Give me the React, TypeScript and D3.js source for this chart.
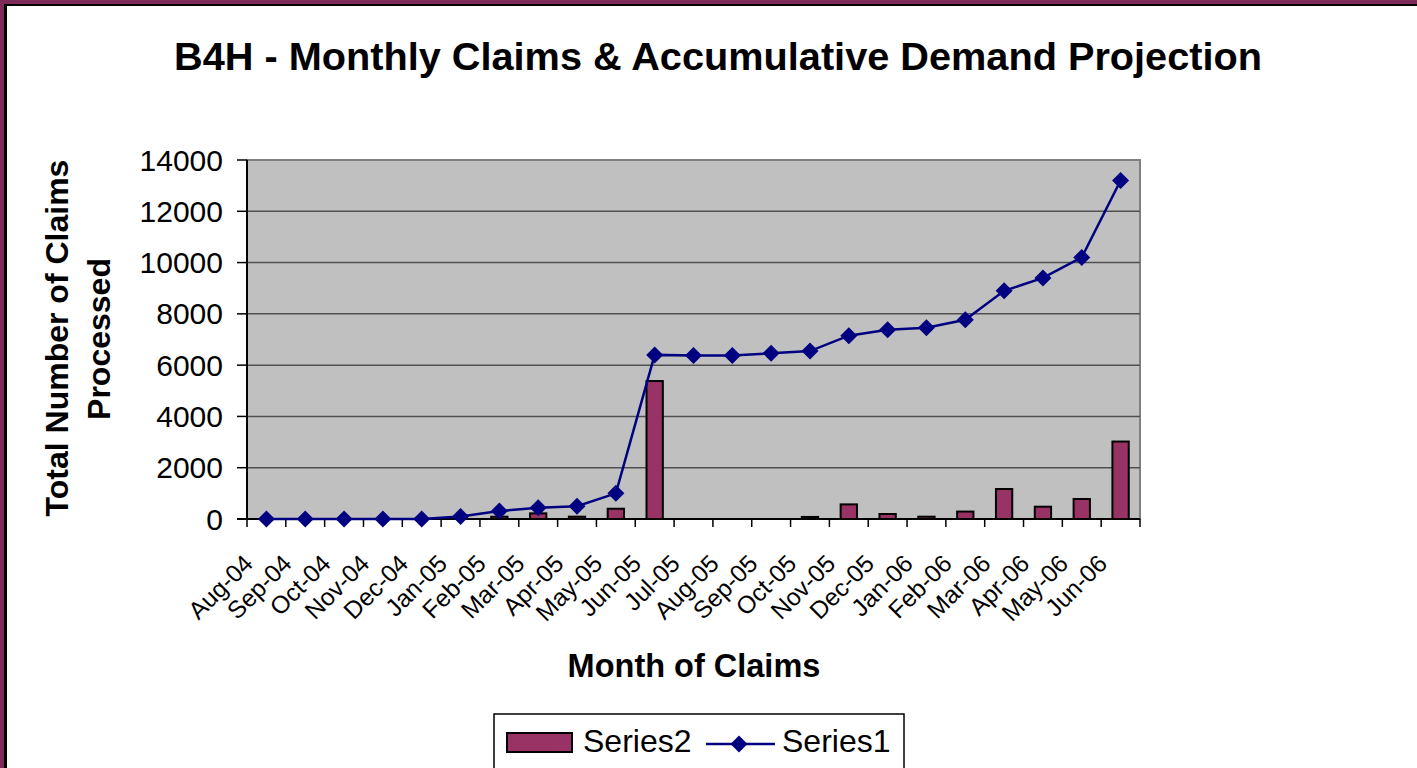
import React from "react";
import * as d3 from "d3";

const months = [
  "Aug-04", "Sep-04", "Oct-04", "Nov-04", "Dec-04", "Jan-05", "Feb-05", "Mar-05",
  "Apr-05", "May-05", "Jun-05", "Jul-05", "Aug-05", "Sep-05", "Oct-05", "Nov-05",
  "Dec-05", "Jan-06", "Feb-06", "Mar-06", "Apr-06", "May-06", "Jun-06",
];

// monthly claims (bars)
const series2 = [
  0, 0, 0, 0, 0, 0, 90, 220, 90, 400, 5380, 0, 0, 0, 80, 570, 195, 90, 290,
  1170, 480, 780, 3020,
];

// accumulative demand (line)
const series1 = [
  0, 0, 0, 0, 0, 100, 310, 440, 500, 1000, 6400, 6380, 6380, 6460, 6550, 7150,
  7380, 7460, 7770, 8900, 9400, 10200, 13200,
];

const yTicks = [0, 2000, 4000, 6000, 8000, 10000, 12000, 14000];

const FONT = "'Liberation Sans', Arial, Helvetica, sans-serif";

export default function App() {
  const width = 1417;
  const height = 768;
  const plot = { left: 247, right: 1140, top: 160, bottom: 519 };

  const x = d3
    .scaleBand<string>()
    .domain(months)
    .range([plot.left, plot.right])
    .padding(0);

  const y = d3.scaleLinear().domain([0, 14000]).range([plot.bottom, plot.top]);

  const bw = x.bandwidth() * 0.42;
  const cx = (m: string) => (x(m) as number) + x.bandwidth() / 2;

  const line = d3
    .line<number>()
    .x((_, i) => cx(months[i]))
    .y((d) => y(d));

  const diamond = (px: number, py: number, r: number) =>
    `M${px},${py - r}L${px + r},${py}L${px},${py + r}L${px - r},${py}Z`;

  return (
    <svg
      width={width}
      height={height}
      style={{ position: "absolute", left: 0, top: 0, background: "#fff" }}
      fontFamily={FONT}
    >
      {/* outer frame */}
      <rect x={0} y={0} width={width} height={4} fill="#7d2b59" />
      <rect x={0} y={0} width={4} height={height} fill="#7d2b59" />
      <rect x={4} y={4} width={width - 4} height={2} fill="#000" />
      <rect x={4} y={4} width={3} height={height - 4} fill="#000" />

      <text x={718} y={70} textAnchor="middle" fontSize={39.7} fontWeight="bold">
        B4H - Monthly Claims &amp; Accumulative Demand Projection
      </text>

      {/* plot area */}
      <rect
        x={plot.left}
        y={plot.top}
        width={plot.right - plot.left}
        height={plot.bottom - plot.top}
        fill="#c0c0c0"
        stroke="#808080"
        strokeWidth={2}
      />
      {yTicks.slice(1).map((t) => (
        <line
          key={"g" + t}
          x1={plot.left}
          x2={plot.right}
          y1={y(t)}
          y2={y(t)}
          stroke={t === 14000 ? "#808080" : "#505050"}
          strokeWidth={1.5}
        />
      ))}

      {/* bars */}
      {series2.map((v, i) =>
        v > 0 ? (
          <rect
            key={"b" + i}
            x={cx(months[i]) - bw / 2}
            y={y(v)}
            width={bw}
            height={y(0) - y(v)}
            fill="#993366"
            stroke="#000"
            strokeWidth={2}
          />
        ) : null
      )}

      {/* axes */}
      <line x1={plot.left} x2={plot.left} y1={plot.top} y2={plot.bottom} stroke="#000" strokeWidth={2} />
      <line x1={plot.left - 10} x2={plot.right} y1={plot.bottom} y2={plot.bottom} stroke="#000" strokeWidth={2} />
      {yTicks.map((t) => (
        <g key={"yt" + t}>
          <line x1={plot.left - 10} x2={plot.left} y1={y(t)} y2={y(t)} stroke="#000" strokeWidth={1.5} />
          <text x={223} y={y(t)} dy="0.35em" textAnchor="end" fontSize={30}>
            {t}
          </text>
        </g>
      ))}
      {months.concat([""]).map((m, i) => {
        const tx = plot.left + i * x.bandwidth();
        return (
          <line key={"xt" + i} x1={tx} x2={tx} y1={plot.bottom} y2={plot.bottom + 8} stroke="#000" strokeWidth={1.5} />
        );
      })}
      {months.map((m) => (
        <text
          key={"xl" + m}
          transform={`translate(${cx(m) - 12},565) rotate(-45)`}
          textAnchor="end"
          fontSize={24.5}
        >
          {m}
        </text>
      ))}

      {/* line series */}
      <path d={line(series1) ?? ""} fill="none" stroke="#000080" strokeWidth={2.5} />
      {series1.map((v, i) => (
        <path key={"d" + i} d={diamond(cx(months[i]), y(v), 8.5)} fill="#000080" />
      ))}

      {/* axis titles */}
      <text
        transform="translate(68,338) rotate(-90)"
        textAnchor="middle"
        fontSize={32}
        fontWeight="bold"
      >
        Total Number of Claims
      </text>
      <text
        transform="translate(110,339) rotate(-90)"
        textAnchor="middle"
        fontSize={32}
        fontWeight="bold"
      >
        Processed
      </text>
      <text x={694} y={677} textAnchor="middle" fontSize={32.5} fontWeight="bold">
        Month of Claims
      </text>

      {/* legend */}
      <rect x={494} y={714} width={410} height={70} fill="#fff" stroke="#000" strokeWidth={1.5} />
      <rect x={507} y={733} width={65} height={19} fill="#993366" stroke="#000" strokeWidth={2} />
      <text x={583} y={752} fontSize={32}>
        Series2
      </text>
      <line x1={706} x2={775} y1={744} y2={744} stroke="#000080" strokeWidth={2.5} />
      <path d={diamond(739, 744, 8.5)} fill="#000080" />
      <text x={782} y={752} fontSize={32}>
        Series1
      </text>
    </svg>
  );
}
